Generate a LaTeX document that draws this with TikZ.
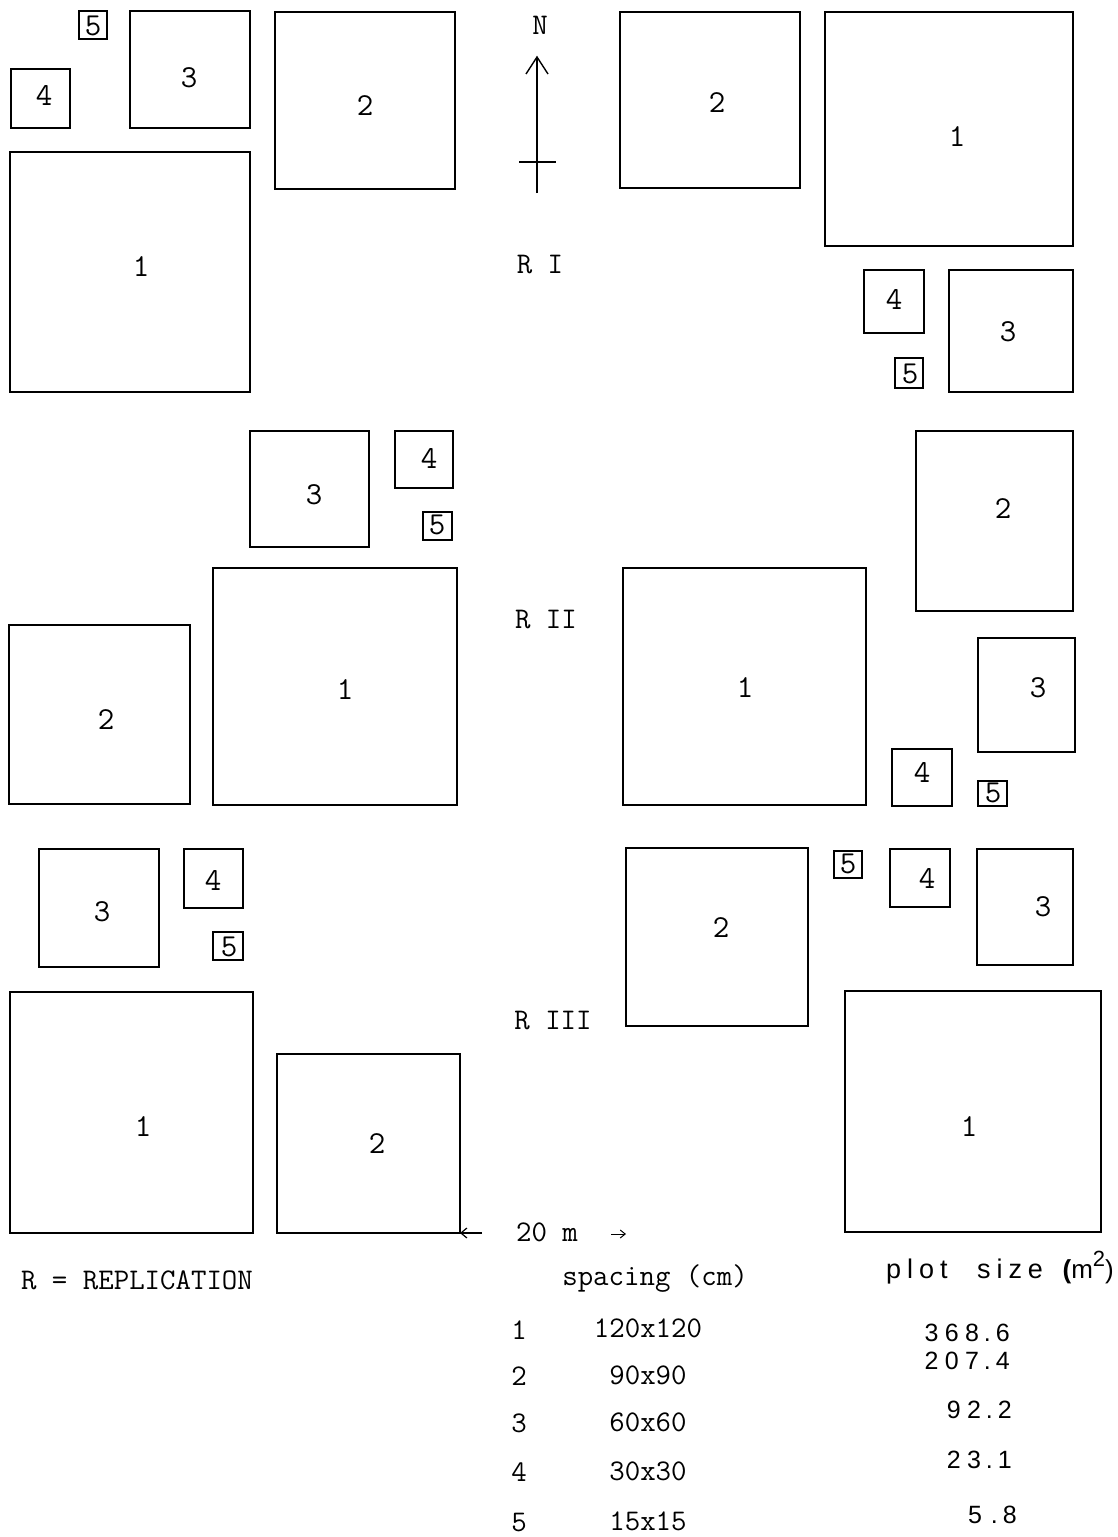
\documentclass[tikz,border=0pt]{standalone}
\usepackage{fontspec}
\newfontfamily\spsans[LetterSpace=25]{Liberation Sans}
\newfontfamily\hdsans[LetterSpace=22]{Liberation Sans}
\newfontfamily\plainsans{Liberation Sans}
\usetikzlibrary{arrows.meta,calc}
\newcommand\pbox[8]{%
 \pgfmathsetmacro\pbw{#4-#2}\pgfmathsetmacro\pbh{#5-#3}%
 \pgfmathsetmacro\pbx{(#2+#4)/2}\pgfmathsetmacro\pby{(#3+#5)/2}%
 \node[plotbox,minimum width=\pbw pt,minimum height=\pbh pt] (#1) at (\pbx,\pby) {};
 \node[boxlbl] (#1l) at (#7,#8) {#6};}
\newcommand\pdot{\kern5pt.\kern5pt}
\begin{document}
\begin{tikzpicture}[x=1pt,y=-1pt,
  plotbox/.style={draw,line width=1.6pt,inner sep=0pt,outer sep=0pt},
  boxlbl/.style={inner sep=0pt,font=\ttfamily\fontsize{32}{34}\selectfont},
  lbl/.style={inner sep=0pt,font=\ttfamily\fontsize{30}{34}\selectfont},
  hd/.style={inner sep=0pt,anchor=base west,font=\hdsans\fontsize{27}{30}\selectfont},
  num/.style={inner sep=0pt,anchor=east,font=\spsans\fontsize{25}{28}\selectfont}]
\useasboundingbox (0,0) rectangle (1117,1537);
% R I left
\pbox{a5}{79}{11}{107}{39}{5}{93}{26}
\pbox{a4}{11}{69}{70}{128}{4}{44}{95}
\pbox{a3}{130}{11}{250}{128}{3}{189}{78}
\pbox{a2}{275}{12}{455}{189}{2}{365}{106}
\pbox{a1}{10}{152}{250}{392}{1}{141}{267}
% R I right
\pbox{b2}{620}{12}{800}{188}{2}{717}{103}
\pbox{b1}{825}{12}{1073}{246}{1}{957}{137}
\pbox{b4}{864}{270}{924}{333}{4}{894}{299}
\pbox{b3}{949}{270}{1073}{392}{3}{1008}{332}
\pbox{b5}{895}{358}{923}{388}{5}{910}{374}
% R II left
\pbox{c3}{250}{431}{369}{547}{3}{314}{495}
\pbox{c4}{395}{431}{453}{488}{4}{429}{458}
\pbox{c5}{423}{512}{452}{540}{5}{437}{525}
\pbox{c2}{9}{625}{190}{804}{2}{106}{720}
\pbox{c1}{213}{568}{457}{805}{1}{345}{690}
% R II right
\pbox{d2}{916}{431}{1073}{611}{2}{1003}{509}
\pbox{d1}{623}{568}{866}{805}{1}{745}{688}
\pbox{d3}{978}{638}{1075}{752}{3}{1038}{688}
\pbox{d4}{892}{749}{952}{806}{4}{922}{772}
\pbox{d5}{978}{781}{1007}{806}{5}{993}{793}
% R III left
\pbox{e3}{39}{849}{159}{967}{3}{102}{912}
\pbox{e4}{184}{849}{243}{908}{4}{213}{880}
\pbox{e5}{213}{932}{243}{960}{5}{229}{947}
\pbox{e1}{10}{992}{253}{1233}{1}{143}{1127}
\pbox{e2}{277}{1054}{460}{1233}{2}{377}{1144}
% R III right
\pbox{f2}{626}{848}{808}{1026}{2}{721}{928}
\pbox{f5}{834}{851}{862}{878}{5}{848}{864}
\pbox{f4}{890}{849}{950}{907}{4}{927}{878}
\pbox{f3}{977}{849}{1073}{965}{3}{1043}{907}
\pbox{f1}{845}{991}{1101}{1232}{1}{969}{1127}
% north arrow
\node[lbl] (north) at (540,25) {N};
\coordinate (ntail) at (537,193);
\coordinate (nhead) at (537,57);
\coordinate (nbarL) at (519,162);
\coordinate (nbarR) at (556,162);
\draw[line width=1.4pt] (ntail) -- (nhead);
\draw[line width=1.4pt] ($(nhead)+(-11,17)$) -- (nhead) -- ($(nhead)+(11,17)$);
\draw[line width=1.4pt] (nbarL) -- (nbarR);
% replication labels
\node[lbl] (r1) at (540,265) {R I};
\node[lbl] (r2) at (546,620) {R II};
\node[lbl] (r3) at (553,1021) {R III};
% scale
\node[lbl] (scale) at (547,1232) {20 m};
\coordinate (sl) at (482,1233);
\draw[line width=1.2pt,-{Straight Barb[length=6pt,width=10pt]}] (sl) -- (e2.south east);
\coordinate (srA) at (611,1234);
\coordinate (srB) at (626,1234);
\draw[line width=1pt,-{Straight Barb[length=5pt,width=8pt]}] (srA) -- (srB);
% legend
\node[lbl] (repl) at (137,1280) {R = REPLICATION};
\node[lbl] (spacing) at (655,1279) {spacing (cm)};
\node[hd] (psplot) at (886,1278) {plot};
\node[hd] (pssize) at (977,1278) {size};
\node[inner sep=0pt,anchor=base east,font=\plainsans\fontsize{26}{30}\selectfont] (psunit) at (1114,1278) {\textbf{(}m\raisebox{0.45em}{\fontsize{22}{22}\selectfont 2})};
\node[lbl] (k1) at (519,1330) {1};
\node[lbl] (k2) at (519,1376) {2};
\node[lbl] (k3) at (519,1423) {3};
\node[lbl] (k4) at (519,1472) {4};
\node[lbl] (k5) at (519,1522) {5};
\node[lbl] (s1) at (648,1328) {120x120};
\node[lbl] (s2) at (648,1375) {90x90};
\node[lbl] (s3) at (648,1422) {60x60};
\node[lbl] (s4) at (648,1471) {30x30};
\node[lbl] (s5) at (648,1521) {15x15};
\node[num] (p1) at (1010,1333) {368\pdot 6};
\node[num] (p2) at (1010,1361) {207\pdot 4};
\node[num] (p3) at (1012,1410) {92\pdot 2};
\node[num] (p4) at (1012,1460) {23\pdot 1};
\node[num] (p5) at (1017,1515) {5\kern4pt\pdot 8};
\end{tikzpicture}
\end{document}
